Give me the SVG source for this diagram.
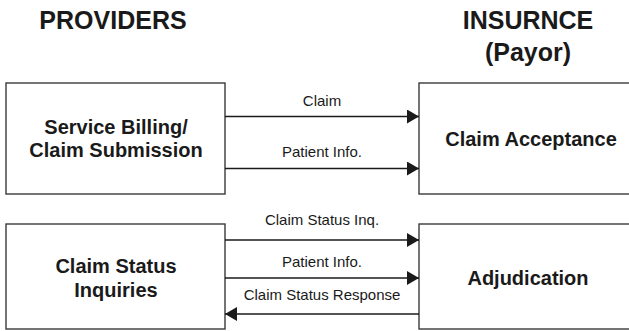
<svg xmlns="http://www.w3.org/2000/svg" width="629" height="331" viewBox="0 0 629 331">
<defs>
<marker id="ah" markerUnits="userSpaceOnUse" markerWidth="13" markerHeight="15" refX="12" refY="7" orient="auto">
<path d="M0,0 L12,7 L0,14 Z" fill="#1a1a1a"/>
</marker>
<style>
.box{fill:#fff;stroke:#3a3a3a;stroke-width:1.4}
.hdr{font-family:"Liberation Sans",Arial,sans-serif;font-weight:bold;font-size:25px;fill:#1a1a1a;text-anchor:middle}
.nt{font-family:"Liberation Sans",Arial,sans-serif;font-weight:bold;font-size:20px;fill:#1a1a1a;text-anchor:middle}
.lbl{font-family:"Liberation Sans",Arial,sans-serif;font-size:15px;fill:#1a1a1a;text-anchor:middle}
.ln{stroke:#1a1a1a;stroke-width:1.4;fill:none}
</style>
</defs>
<rect width="629" height="331" fill="#fff"/>
<g id="headers">
<text class="hdr" x="113" y="29">PROVIDERS</text>
<text class="hdr" x="528" y="29">INSURNCE</text>
<text class="hdr" x="528" y="61">(Payor)</text>
</g>
<g id="node-billing">
<rect class="box" x="6" y="83" width="219" height="111"/>
<text class="nt" x="116" y="134">Service Billing/</text>
<text class="nt" x="116" y="157">Claim Submission</text>
</g>
<g id="node-acceptance">
<rect class="box" x="419" y="83" width="230" height="111"/>
<text class="nt" x="531" y="146">Claim Acceptance</text>
</g>
<g id="node-inquiries">
<rect class="box" x="6" y="224" width="219" height="105"/>
<text class="nt" x="116" y="273">Claim Status</text>
<text class="nt" x="116" y="297">Inquiries</text>
</g>
<g id="node-adjudication">
<rect class="box" x="419" y="224" width="230" height="105"/>
<text class="nt" x="528" y="285">Adjudication</text>
</g>
<g id="connectors">
<line class="ln" x1="225" y1="116.5" x2="419" y2="116.5" marker-end="url(#ah)"/>
<text class="lbl" x="322" y="106">Claim</text>
<line class="ln" x1="225" y1="168.5" x2="419" y2="168.5" marker-end="url(#ah)"/>
<text class="lbl" x="322" y="157">Patient Info.</text>
<line class="ln" x1="225" y1="240" x2="419" y2="240" marker-end="url(#ah)"/>
<text class="lbl" x="322" y="225">Claim Status Inq.</text>
<line class="ln" x1="225" y1="278" x2="419" y2="278" marker-end="url(#ah)"/>
<text class="lbl" x="322" y="267">Patient Info.</text>
<line class="ln" x1="419" y1="314" x2="225" y2="314" marker-end="url(#ah)"/>
<text class="lbl" x="322" y="300">Claim Status Response</text>
</g>
</svg>
